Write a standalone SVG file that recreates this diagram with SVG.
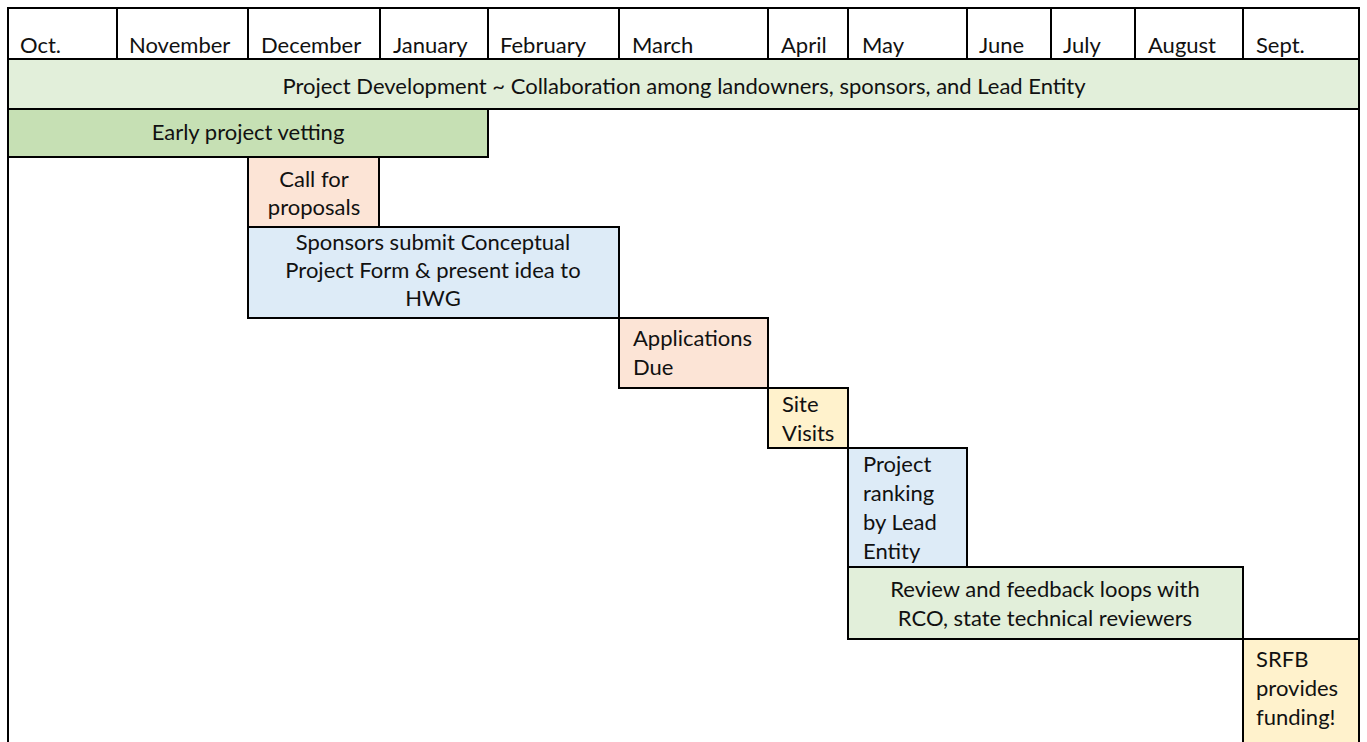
<svg xmlns="http://www.w3.org/2000/svg" width="1367" height="742" viewBox="0 0 1367 742">
<style>
  text { font-family: Lato, "Open Sans", "Liberation Sans", sans-serif; font-size: 22px; fill: #111; }
  .c { text-anchor: middle; }
  .cell { stroke: #000; stroke-width: 2; }
  .hdr { fill: #fff; }
  .lg { fill: #E2EFDA; }
  .dg { fill: #C6E0B4; }
  .pe { fill: #FCE4D6; }
  .bl { fill: #DDEBF7; }
  .ye { fill: #FFF2CC; }
  .frame { stroke: #000; stroke-width: 2; fill: none; }
</style>
<rect width="1367" height="742" fill="#fff"/>
<g id="frame">
  <line class="frame" x1="8" y1="8" x2="8" y2="742"/>
  <line class="frame" x1="1359" y1="8" x2="1359" y2="742"/>
</g>
<g id="header">
  <rect class="cell hdr" x="8" y="8" width="109" height="51"/><text x="20" y="53">Oct.</text>
  <rect class="cell hdr" x="117" y="8" width="131" height="51"/><text x="129" y="53">November</text>
  <rect class="cell hdr" x="248" y="8" width="132" height="51"/><text x="261" y="53">December</text>
  <rect class="cell hdr" x="380" y="8" width="108" height="51"/><text x="393" y="53">January</text>
  <rect class="cell hdr" x="488" y="8" width="131" height="51"/><text x="500" y="53">February</text>
  <rect class="cell hdr" x="619" y="8" width="149" height="51"/><text x="632" y="53">March</text>
  <rect class="cell hdr" x="768" y="8" width="80" height="51"/><text x="781" y="53">April</text>
  <rect class="cell hdr" x="848" y="8" width="119" height="51"/><text x="862" y="53">May</text>
  <rect class="cell hdr" x="967" y="8" width="84" height="51"/><text x="979" y="53">June</text>
  <rect class="cell hdr" x="1051" y="8" width="84" height="51"/><text x="1063" y="53">July</text>
  <rect class="cell hdr" x="1135" y="8" width="108" height="51"/><text x="1148" y="53">August</text>
  <rect class="cell hdr" x="1243" y="8" width="116" height="51"/><text x="1256" y="53">Sept.</text>
</g>
<g id="project-development">
  <rect class="cell lg" x="8" y="59" width="1351" height="50"/>
  <text class="c" x="684" y="94">Project Development ~ Collaboration among landowners, sponsors, and Lead Entity</text>
</g>
<g id="early-vetting">
  <rect class="cell dg" x="8" y="109" width="480" height="48"/>
  <text class="c" x="248" y="140">Early project vetting</text>
</g>
<g id="call-for-proposals">
  <rect class="cell pe" x="248" y="157" width="131" height="70"/>
  <text class="c" x="314" y="187">Call for</text>
  <text class="c" x="314" y="215">proposals</text>
</g>
<g id="sponsors-submit">
  <rect class="cell bl" x="248" y="227" width="371" height="91"/>
  <text class="c" x="433" y="250">Sponsors submit Conceptual</text>
  <text class="c" x="433" y="278">Project Form &amp; present idea to</text>
  <text class="c" x="433" y="306">HWG</text>
</g>
<g id="applications-due">
  <rect class="cell pe" x="619" y="318" width="149" height="70"/>
  <text x="633" y="346">Applications</text>
  <text x="633" y="375">Due</text>
</g>
<g id="site-visits">
  <rect class="cell ye" x="768" y="388" width="80" height="60"/>
  <text x="782" y="412">Site</text>
  <text x="782" y="441">Visits</text>
</g>
<g id="project-ranking">
  <rect class="cell bl" x="848" y="448" width="119" height="119"/>
  <text x="863" y="472">Project</text>
  <text x="863" y="501">ranking</text>
  <text x="863" y="530">by Lead</text>
  <text x="863" y="559">Entity</text>
</g>
<g id="review-feedback">
  <rect class="cell lg" x="848" y="567" width="395" height="72"/>
  <text class="c" x="1045" y="597">Review and feedback loops with</text>
  <text class="c" x="1045" y="626">RCO, state technical reviewers</text>
</g>
<g id="srfb-funding">
  <rect class="cell ye" x="1243" y="639" width="116" height="110"/>
  <text x="1256" y="667">SRFB</text>
  <text x="1256" y="696">provides</text>
  <text x="1256" y="725">funding!</text>
</g>
<g id="connectors"></g>
</svg>
